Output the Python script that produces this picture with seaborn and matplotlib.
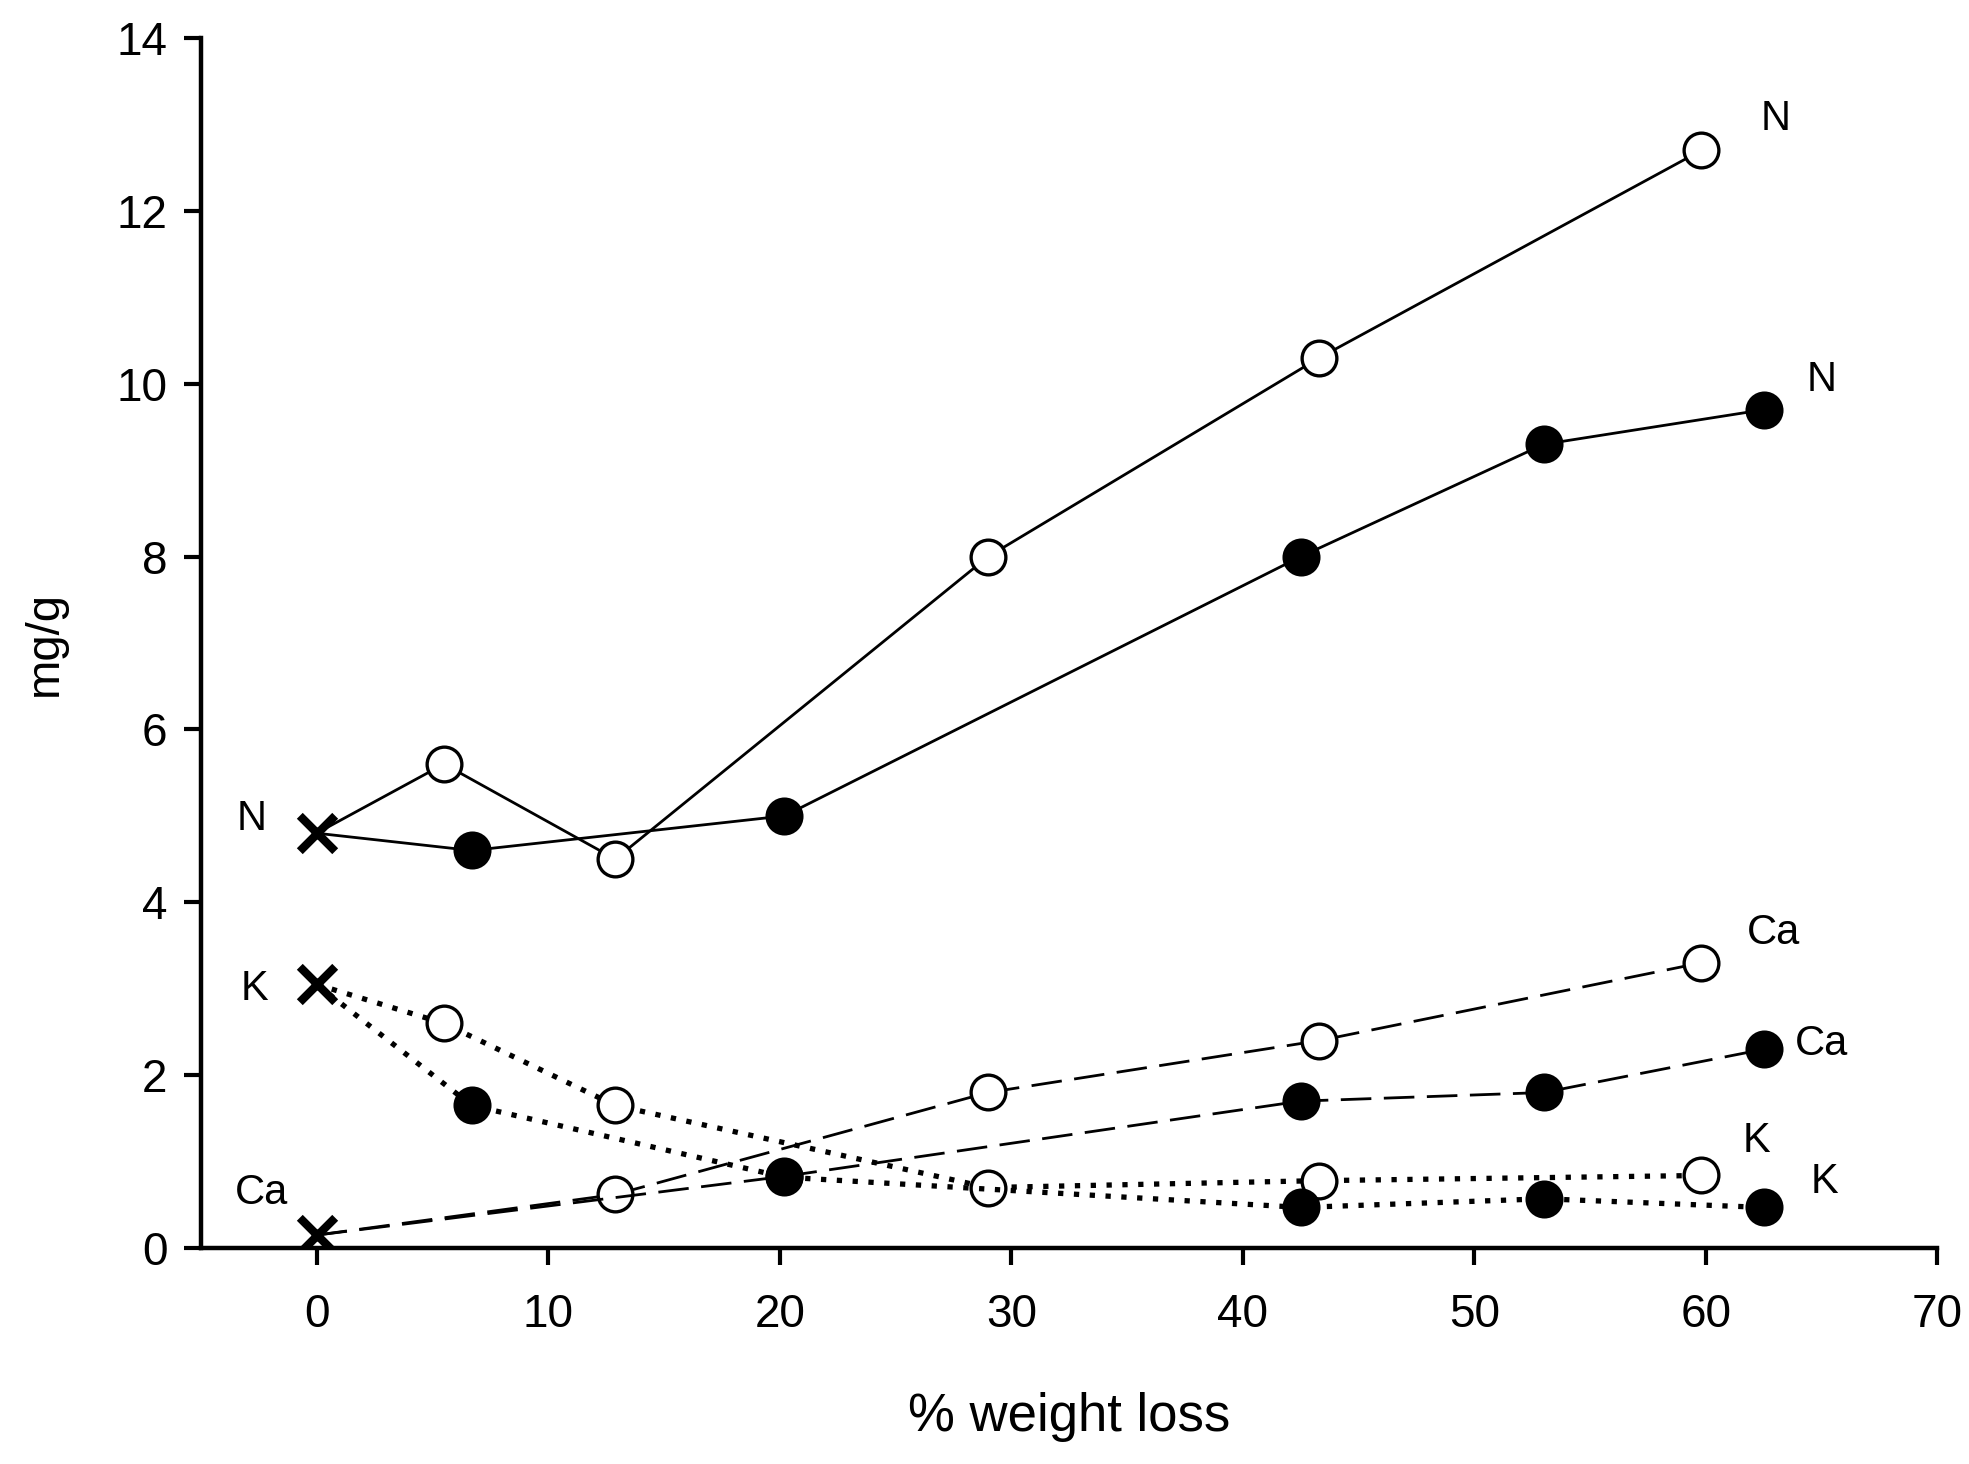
import seaborn as sns
import matplotlib.pyplot as plt

sns.set_style('ticks')
plt.rcParams['font.family'] = ['Liberation Sans', 'DejaVu Sans']
plt.rcParams['text.color'] = 'black'
plt.rcParams['axes.labelcolor'] = 'black'
plt.rcParams['xtick.color'] = 'black'
plt.rcParams['ytick.color'] = 'black'
plt.rcParams['axes.edgecolor'] = 'black'

# % weight loss and concentrations (mg/g); first point of every series is the start value (x)
x_open = [0, 5.5, 12.9, 29.0, 43.3, 59.8]
x_fill = [0, 6.7, 20.2, 42.5, 53.0, 62.5]
n_open = [4.8, 5.6, 4.5, 8.0, 10.3, 12.7]
n_fill = [4.8, 4.6, 5.0, 8.0, 9.3, 9.7]
k_open = [3.05, 2.6, 1.65, 0.7, 0.78, 0.84]
k_fill = [3.05, 1.65, 0.82, 0.47, 0.57, 0.47]
ca_x_open = [0, 12.9, 29.0, 43.3, 59.8]
ca_open = [0.15, 0.62, 1.8, 2.4, 3.3]
ca_x_fill = [0, 20.2, 42.5, 53.0, 62.5]
ca_fill = [0.15, 0.83, 1.7, 1.8, 2.3]

start_x = [0, 0, 0]
start_y = [4.8, 3.05, 0.15]

fig, ax = plt.subplots(figsize=(19.69, 14.64), dpi=100)
fig.subplots_adjust(left=0.102, right=0.984, bottom=0.1475, top=0.974)

solid = '-'
dashed = (0, (11, 4.5))
dotted = (0, (1, 2.0))

series = [
    (x_open, n_open, solid, 'white', 2.0),
    (x_fill, n_fill, solid, 'black', 2.0),
    (ca_x_open, ca_open, dashed, 'white', 2.0),
    (ca_x_fill, ca_fill, dashed, 'black', 2.0),
    (x_open, k_open, dotted, 'white', 3.8),
    (x_fill, k_fill, dotted, 'black', 3.8),
]
for xs, ys, ls, fc, lw in series:
    # line from the start point, markers only on the later points
    sns.lineplot(x=xs, y=ys, ax=ax, sort=False, color='black', linestyle=ls,
                 linewidth=lw, estimator=None)
    sns.lineplot(x=xs[1:], y=ys[1:], ax=ax, sort=False, color='black', linestyle='none',
                 marker='o', markersize=25, markerfacecolor=fc, markeredgecolor='black',
                 markeredgewidth=2.4, estimator=None)

sns.scatterplot(x=start_x, y=start_y, ax=ax, marker='x', s=650, color='black',
                linewidth=6, zorder=5)

# element labels
labels = [
    ('N', -2.8, 4.96), ('K', -2.7, 3.0), ('Ca', -2.4, 0.64),
    ('N', 63.0, 13.06), ('N', 65.0, 10.04), ('Ca', 62.9, 3.64),
    ('Ca', 65.0, 2.36), ('K', 62.2, 1.24), ('K', 65.1, 0.76),
]
for t, lx, ly in labels:
    ax.text(lx, ly, t, fontsize=30, ha='center', va='center')

ax.set_xlim(-5, 70)
ax.set_ylim(0, 14)
ax.set_xticks(range(0, 71, 10))
ax.set_yticks(range(0, 15, 2))
ax.tick_params(direction='out', length=12, width=3, labelsize=33, pad=20)
ax.tick_params(axis='y', pad=12)
for s in ['top', 'right']:
    ax.spines[s].set_visible(False)
for s in ['left', 'bottom']:
    ax.spines[s].set_linewidth(3.2)
ax.set_xlabel('% weight loss', fontsize=38, labelpad=40)
ax.set_ylabel('mg/g', fontsize=34, labelpad=36)

fig.savefig('out.png', dpi=100, facecolor='white')
